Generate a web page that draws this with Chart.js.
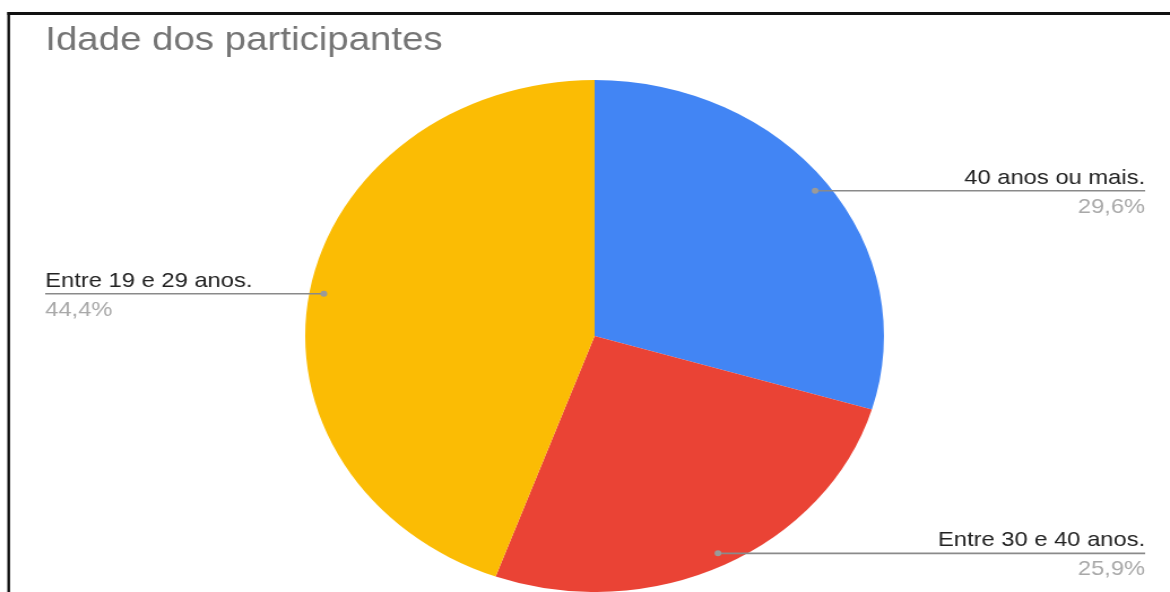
<!DOCTYPE html>
<html>
<head>
<meta charset="utf-8">
<script src="https://cdn.jsdelivr.net/npm/chart.js@4"></script>
<style>
  html, body { margin: 0; padding: 0; background: #fff; overflow: hidden; }
  /* the original picture is stretched sideways, so the whole chart is too */
  #wrap { width: 1035px; height: 592px; transform: scaleX(1.1304); transform-origin: 0 0; }
</style>
</head>
<body>
<div id="wrap"><canvas id="ageChart"></canvas></div>
<script>
var chartTitle = 'Idade dos participantes';
var categories = ['40 anos ou mais.', 'Entre 30 e 40 anos.', 'Entre 19 e 29 anos.'];
var percentages = [29.6, 25.9, 44.4];
var sliceColors = ['#4285F4', '#EA4335', '#FBBC04'];

var fontFamily = '"Liberation Sans", Arial, sans-serif';

// frame, title and the leader-line labels
var sliceLabels = {
    id: 'sliceLabels',
    afterDraw: function(chart) {
        var ctx = chart.ctx;
        ctx.save();

        // black frame (top and left edges only)
        ctx.strokeStyle = '#111';
        ctx.lineWidth = 3;
        ctx.beginPath();
        ctx.moveTo(6.5, 13.5);
        ctx.lineTo(chart.width, 13.5);
        ctx.stroke();
        ctx.lineWidth = 2.4;
        ctx.beginPath();
        ctx.moveTo(7.7, 12);
        ctx.lineTo(7.7, chart.height);
        ctx.stroke();

        // title
        ctx.fillStyle = '#757575';
        ctx.font = '34px ' + fontFamily;
        ctx.textAlign = 'left';
        ctx.textBaseline = 'alphabetic';
        ctx.fillText(chartTitle, 40, 50);

        var meta = chart.getDatasetMeta(0);
        meta.data.forEach(function(arc, i) {
            var p = arc.getProps(['x', 'y', 'startAngle', 'endAngle', 'outerRadius'], true);
            var mid = (p.startAngle + p.endAngle) / 2;
            var r = p.outerRadius * 0.95;
            var px = p.x + Math.cos(mid) * r;
            var py = p.y + Math.sin(mid) * r;
            var right = px > p.x;
            var lineEnd = right ? 1013 : 40;

            ctx.strokeStyle = '#8a8a8a';
            ctx.lineWidth = 1.6;
            ctx.beginPath();
            ctx.moveTo(px, py);
            ctx.lineTo(lineEnd, py);
            ctx.stroke();

            ctx.fillStyle = '#9a9a9a';
            ctx.beginPath();
            ctx.arc(px, py, 3, 0, Math.PI * 2);
            ctx.fill();

            ctx.textAlign = right ? 'right' : 'left';
            ctx.font = '21px ' + fontFamily;
            ctx.fillStyle = '#222';
            ctx.fillText(chart.data.labels[i], lineEnd, py - 7);
            ctx.fillStyle = '#a8a8a8';
            var v = chart.data.datasets[0].data[i];
            ctx.fillText(v.toFixed(1).replace('.', ',') + '%', lineEnd, py + 22);
        });
        ctx.restore();
    }
};

var ctx = document.getElementById('ageChart').getContext('2d');
var ageChart = new Chart(ctx, {
    type: 'pie',
    data: {
        labels: categories,
        datasets: [{
            data: percentages,
            backgroundColor: sliceColors,
            borderWidth: 0
        }]
    },
    options: {
        responsive: true,
        maintainAspectRatio: false,
        animation: false,
        layout: {
            padding: { top: 80, bottom: 0, left: 270, right: 253 }
        },
        plugins: {
            legend: { display: false },
            tooltip: { enabled: false }
        }
    },
    plugins: [sliceLabels]
});
</script>
</body>
</html>
